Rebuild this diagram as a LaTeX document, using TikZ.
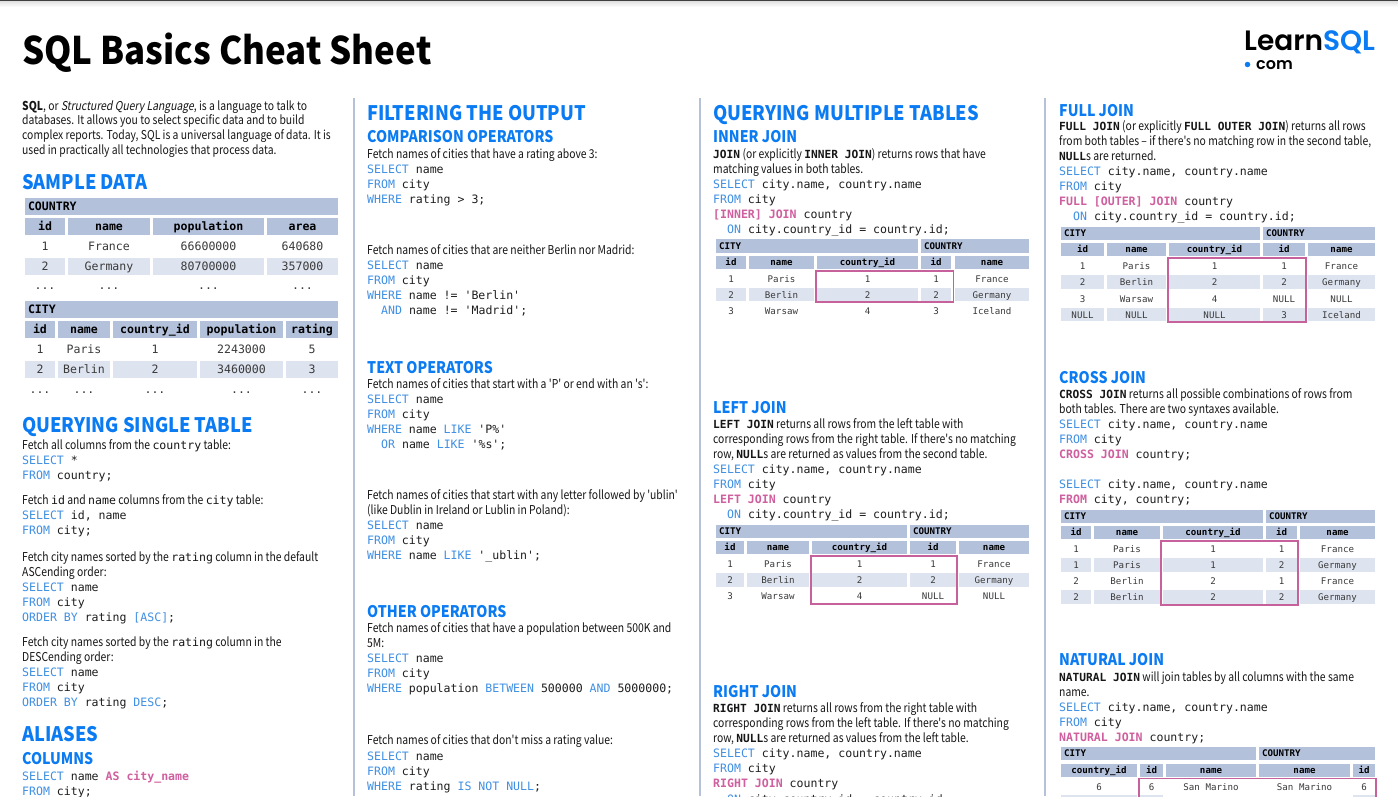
\documentclass[tikz,border=0pt]{standalone}
\usepackage{fontspec}
\newfontfamily\bodyf[FakeStretch=0.85]{Noto Sans CJK SC}
\newfontfamily\slantf[FakeSlant=0.18,FakeStretch=0.85]{Noto Sans CJK SC}
\newfontfamily\headAf[FakeStretch=0.91]{Noto Sans CJK SC}
\newfontfamily\headBf[FakeStretch=0.885]{Noto Sans CJK SC}
\newfontfamily\titlef[FakeStretch=0.917]{Noto Sans CJK SC}
\newfontfamily\monof{DejaVu Sans Mono}
\newfontfamily\logof{Poppins SemiBold}
\definecolor{blueh}{HTML}{0A7BF2}
\definecolor{kwb}{HTML}{3F8FE3}
\definecolor{kwp}{HTML}{CF5F9E}
\definecolor{pinkb}{HTML}{C7619B}
\definecolor{hdrc}{HTML}{B3C1DB}
\definecolor{rowc}{HTML}{DDE3EF}
\definecolor{sepc}{HTML}{B5C1D9}
\definecolor{bodyc}{HTML}{161616}
\definecolor{codec}{HTML}{1E1E1E}
\definecolor{datac}{HTML}{3A3A3A}
\newcounter{nn}
\newcommand\Dt{{.}{.}{.}}
\newcommand\KB[1]{{\color{kwb}#1}}
\newcommand\KP[1]{{\color{kwp}\bfseries #1}}
\newcommand\MC[1]{{\monof\fontsize{11.55}{15}\selectfont #1}}
\newcommand\MB[1]{{\monof\bfseries\fontsize{11.2}{15}\selectfont #1}}
\newcommand\Ln[3]{\stepcounter{nn}\node[txt] (n\thenn) at (#1,#2) {#3};}
\newcommand\Cd[3]{\stepcounter{nn}\node[codetxt] (n\thenn) at (#1,#2) {#3};}
\newcommand\HA[3]{\stepcounter{nn}\node[headA] (n\thenn) at (#1,#2) {#3};}
\newcommand\HB[3]{\stepcounter{nn}\node[headB] (n\thenn) at (#1,#2) {#3};}
\newcommand\Cell[6]{\stepcounter{nn}\node[cellbox,#5,minimum width={(#2-(#1))*1pt},minimum height={(#4-(#3))*1pt}] (n\thenn) at ({(#1+#2)/2},{(#3+#4)/2}) {#6};}
\newcommand\Rw[4]{\foreach \xa/\xb/\xt in {#4}{\Cell{\xa}{\xb}{#1}{#2}{#3}{\xt}}}
\newcommand\BarT[6]{\stepcounter{nn}\node[cellbox,hd,#5,minimum width={(#2-(#1))*1pt},minimum height={(#4-(#3))*1pt}] (n\thenn) at ({(#1+#2)/2},{(#3+#4)/2}) {\makebox[\dimexpr #2pt-#1pt\relax][l]{\hspace{3pt}#6}};}
\newcommand\Pk[4]{\stepcounter{nn}\node[pinkbox,minimum width={(#2-(#1))*1pt},minimum height={(#4-(#3))*1pt}] (n\thenn) at ({(#1+#2)/2},{(#3+#4)/2}) {};}
\tikzset{
 txt/.style={inner sep=0pt,anchor=base west,text=bodyc,font=\bodyf\fontsize{12.2}{15}\selectfont},
 codetxt/.style={inner sep=0pt,anchor=base west,text=codec,font=\monof\fontsize{11.55}{15}\selectfont},
 headA/.style={inner sep=0pt,anchor=base west,text=blueh,font=\headAf\bfseries\fontsize{20}{25}\selectfont},
 headB/.style={inner sep=0pt,anchor=base west,text=blueh,font=\headBf\bfseries\fontsize{16}{20}\selectfont},
 cellbox/.style={inner sep=0pt,outer sep=0pt,text=datac},
 bg/.style={text height=8.4pt,text depth=0pt,font=\monof\fontsize{11.55}{14}\selectfont},
 sm/.style={text height=7.6pt,text depth=0pt,font=\monof\fontsize{9.15}{12}\selectfont},
 smh/.style={sm,text height=6.8pt},
 hd/.style={fill=hdrc,text=black,execute at begin node=\bfseries},
 rw/.style={fill=rowc},
 pl/.style={},
 pinkbox/.style={draw=pinkb,line width=1.7pt,inner sep=0pt,outer sep=0pt},
 sepl/.style={draw=sepc,line width=1.8pt},
}
\begin{document}
\begin{tikzpicture}[x=1pt,y=-1pt]
\useasboundingbox (0,0) rectangle (1398,796);
\clip (0,0) rectangle (1398,796);
\fill[white] (0,0) rectangle (1398,796);
\fill[top color=black!12,bottom color=white] (0,1) rectangle (1398,7);
\fill[black!75] (0,0) rectangle (1398,1.2);
% separators
\coordinate (s1a) at (354.3,98); \coordinate (s1b) at (354.3,796);
\coordinate (s2a) at (700.3,98); \coordinate (s2b) at (700.3,796);
\coordinate (s3a) at (1045,98); \coordinate (s3b) at (1045,796);
\draw[sepl] (s1a) -- (s1b); \draw[sepl] (s2a) -- (s2b); \draw[sepl] (s3a) -- (s3b);
% title and logo
\node[inner sep=0pt,anchor=base west,text=black,font=\titlef\bfseries\fontsize{38}{44}\selectfont] (title) at (22,64) {SQL Basics Cheat Sheet};
\node[inner sep=0pt,anchor=base west,font=\logof\fontsize{28}{32}\selectfont] (logo) at (1244,50) {\color{black}Learn\color{blueh}SQL};
\node[inner sep=0pt,anchor=base west,font=\logof\fontsize{16}{18}\selectfont] (logob) at (1256,69.5) {com};
\node[circle,fill=blueh,inner sep=0pt,minimum size=5.5pt] (logod) at (1247.5,64.5) {};
% COLUMN 1
\Ln{22}{110}{\textbf{SQL}, or {\slantf Structured Query Language}, is a language to talk to}
\Ln{22}{124.5}{databases. It allows you to select specific data and to build}
\Ln{22}{139}{complex reports. Today, SQL is a universal language of data. It is}
\Ln{22}{154}{used in practically all technologies that process data.}
\HA{22}{189.5}{SAMPLE DATA}
\BarT{25}{338}{198}{215}{bg}{COUNTRY}
\Rw{218}{235}{bg,hd}{25/65/id,68/150/name,153/264/population,267/338/area}
\Rw{238}{255}{bg,pl}{25/65/1,68/150/France,153/264/66600000,267/338/640680}
\Rw{258}{275}{bg,rw}{25/65/2,68/150/Germany,153/264/80700000,267/338/357000}
\Rw{277}{294}{bg,pl}{25/65/\Dt,68/150/\Dt,153/264/\Dt,267/338/\Dt}
\BarT{25}{338}{301}{318}{bg}{CITY}
\Rw{321}{338}{bg,hd}{25/55/id,58/110/name,113/197/country\_id,200/283/population,286/338/rating}
\Rw{341}{358}{bg,pl}{25/55/1,58/110/Paris,113/197/1,200/283/2243000,286/338/5}
\Rw{361}{378}{bg,rw}{25/55/2,58/110/Berlin,113/197/2,200/283/3460000,286/338/3}
\Rw{380}{398}{bg,pl}{25/55/\Dt,58/110/\Dt,113/197/\Dt,200/283/\Dt,286/338/\Dt}
\HA{22}{432.5}{QUERYING SINGLE TABLE}
\Ln{22}{449}{Fetch all columns from the \MC{country} table:}
\Cd{22}{464}{\KB{SELECT} *}
\Cd{22}{479}{\KB{FROM} country;}
\Ln{22}{504}{Fetch \MC{id} and \MC{name} columns from the \MC{city} table:}
\Cd{22}{519}{\KB{SELECT} id, name}
\Cd{22}{534}{\KB{FROM} city;}
\Ln{22}{561}{Fetch city names sorted by the \MC{rating} column in the default}
\Ln{22}{576}{ASCending order:}
\Cd{22}{591}{\KB{SELECT} name}
\Cd{22}{606}{\KB{FROM} city}
\Cd{22}{621}{\KB{ORDER BY} rating \KB{[ASC]};}
\Ln{22}{646}{Fetch city names sorted by the \MC{rating} column in the}
\Ln{22}{661}{DESCending order:}
\Cd{22}{676}{\KB{SELECT} name}
\Cd{22}{691}{\KB{FROM} city}
\Cd{22}{706}{\KB{ORDER BY} rating \KB{DESC};}
\HA{22}{741.5}{ALIASES}
\HB{22}{764}{COLUMNS}
\Cd{22}{780}{\KB{SELECT} name \KP{AS city\_name}}
\Cd{22}{795}{\KB{FROM} city;}
% COLUMN 2
\HA{367}{120.5}{FILTERING THE OUTPUT}
\HB{367}{142}{COMPARISON OPERATORS}
\Ln{367}{158}{Fetch names of cities that have a rating above 3:}
\Cd{367}{173}{\KB{SELECT} name}
\Cd{367}{188}{\KB{FROM} city}
\Cd{367}{203}{\KB{WHERE} rating > 3;}
\Ln{367}{254}{Fetch names of cities that are neither Berlin nor Madrid:}
\Cd{367}{269}{\KB{SELECT} name}
\Cd{367}{284}{\KB{FROM} city}
\Cd{367}{299}{\KB{WHERE} name != 'Berlin'}
\Cd{381}{314}{\KB{AND} name != 'Madrid';}
\HB{367}{373}{TEXT OPERATORS}
\Ln{367}{388}{Fetch names of cities that start with a 'P' or end with an 's':}
\Cd{367}{403}{\KB{SELECT} name}
\Cd{367}{418}{\KB{FROM} city}
\Cd{367}{433}{\KB{WHERE} name \KB{LIKE} 'P\%'}
\Cd{381}{448}{\KB{OR} name \KB{LIKE} '\%s';}
\Ln{367}{499}{Fetch names of cities that start with any letter followed by 'ublin'}
\Ln{367}{514}{(like Dublin in Ireland or Lublin in Poland):}
\Cd{367}{529}{\KB{SELECT} name}
\Cd{367}{544}{\KB{FROM} city}
\Cd{367}{559}{\KB{WHERE} name \KB{LIKE} '\_ublin';}
\HB{367}{617}{OTHER OPERATORS}
\Ln{367}{632}{Fetch names of cities that have a population between 500K and}
\Ln{367}{647}{5M:}
\Cd{367}{662}{\KB{SELECT} name}
\Cd{367}{677}{\KB{FROM} city}
\Cd{367}{692}{\KB{WHERE} population \KB{BETWEEN} 500000 \KB{AND} 5000000;}
\Ln{367}{744}{Fetch names of cities that don't miss a rating value:}
\Cd{367}{760}{\KB{SELECT} name}
\Cd{367}{775}{\KB{FROM} city}
\Cd{367}{790}{\KB{WHERE} rating \KB{IS NOT NULL};}
% COLUMN 3
\HA{713}{120.5}{QUERYING MULTIPLE TABLES}
\HB{713}{142}{INNER JOIN}
\Ln{713}{158}{\MB{JOIN} (or explicitly \MB{INNER JOIN}) returns rows that have}
\Ln{713}{173}{matching values in both tables.}
\Cd{713}{188}{\KB{SELECT} city.name, country.name}
\Cd{713}{203}{\KB{FROM} city}
\Cd{713}{218}{\KP{[INNER] JOIN} country}
\Cd{727}{233}{\KB{ON} city.country\_id = country.id;}
\BarT{716}{918}{239}{253}{smh}{CITY}
\BarT{921}{1029}{239}{253}{smh}{COUNTRY}
\Rw{256}{269}{smh,hd}{716/746/id,749/814/name,817/918/country\_id,921/951/id,955/1029/name}
\Rw{272}{285}{sm,pl}{716/746/1,749/814/Paris,817/918/1,921/951/1,955/1029/France}
\Rw{288}{301}{sm,rw}{716/746/2,749/814/Berlin,817/918/2,921/951/2,955/1029/Germany}
\Rw{304}{317}{sm,pl}{716/746/3,749/814/Warsaw,817/918/4,921/951/3,955/1029/Iceland}
\Pk{816}{953.5}{271}{302}
\HB{713}{413}{LEFT JOIN}
\Ln{713}{428}{\MB{LEFT JOIN} returns all rows from the left table with}
\Ln{713}{443}{corresponding rows from the right table. If there's no matching}
\Ln{713}{458}{row, \MB{NULL}s are returned as values from the second table.}
\Cd{713}{473}{\KB{SELECT} city.name, country.name}
\Cd{713}{488}{\KB{FROM} city}
\Cd{713}{503}{\KP{LEFT JOIN} country}
\Cd{727}{518}{\KB{ON} city.country\_id = country.id;}
\BarT{716}{907}{525}{538}{smh}{CITY}
\BarT{910}{1029}{525}{538}{smh}{COUNTRY}
\Rw{541}{554}{smh,hd}{716/744/id,747/809/name,812/907/country\_id,910/956/id,959/1029/name}
\Rw{557}{571}{sm,pl}{716/744/1,747/809/Paris,812/907/1,910/956/1,959/1029/France}
\Rw{573}{587}{sm,rw}{716/744/2,747/809/Berlin,812/907/2,910/956/2,959/1029/Germany}
\Rw{589}{603}{sm,pl}{716/744/3,747/809/Warsaw,812/907/4,910/956/NULL,959/1029/NULL}
\Pk{811}{957}{556}{604}
\HB{713}{697}{RIGHT JOIN}
\Ln{713}{712}{\MB{RIGHT JOIN} returns all rows from the right table with}
\Ln{713}{727}{corresponding rows from the left table. If there's no matching}
\Ln{713}{742}{row, \MB{NULL}s are returned as values from the left table.}
\Cd{713}{757}{\KB{SELECT} city.name, country.name}
\Cd{713}{772}{\KB{FROM} city}
\Cd{713}{787}{\KP{RIGHT JOIN} country}
\Cd{727}{803}{\KB{ON} city.country\_id = country.id;}
% COLUMN 4
\HB{1059}{116}{FULL JOIN}
\Ln{1059}{130}{\MB{FULL JOIN} (or explicitly \MB{FULL OUTER JOIN}) returns all rows}
\Ln{1059}{145}{from both tables – if there's no matching row in the second table,}
\Ln{1059}{160}{\MB{NULL}s are returned.}
\Cd{1059}{175}{\KB{SELECT} city.name, country.name}
\Cd{1059}{190}{\KB{FROM} city}
\Cd{1059}{205}{\KP{FULL [OUTER] JOIN} country}
\Cd{1073}{220}{\KB{ON} city.country\_id = country.id;}
\BarT{1061}{1260}{227}{240}{smh}{CITY}
\BarT{1263}{1375}{227}{240}{smh}{COUNTRY}
\Rw{243}{256}{smh,hd}{1061/1104/id,1107/1166/name,1169/1260/country\_id,1263/1305/id,1308/1375/name}
\Rw{259}{273}{sm,pl}{1061/1104/1,1107/1166/Paris,1169/1260/1,1263/1305/1,1308/1375/France}
\Rw{275}{289}{sm,rw}{1061/1104/2,1107/1166/Berlin,1169/1260/2,1263/1305/2,1308/1375/Germany}
\Rw{292}{306}{sm,pl}{1061/1104/3,1107/1166/Warsaw,1169/1260/4,1263/1305/NULL,1308/1375/NULL}
\Rw{308}{321}{sm,rw}{1061/1104/NULL,1107/1166/NULL,1169/1260/NULL,1263/1305/3,1308/1375/Iceland}
\Pk{1168}{1306}{258}{322}
\HB{1059}{383}{CROSS JOIN}
\Ln{1059}{398}{\MB{CROSS JOIN} returns all possible combinations of rows from}
\Ln{1059}{413}{both tables. There are two syntaxes available.}
\Cd{1059}{428}{\KB{SELECT} city.name, country.name}
\Cd{1059}{443}{\KB{FROM} city}
\Cd{1059}{458}{\KP{CROSS JOIN} country;}
\Cd{1059}{488}{\KB{SELECT} city.name, country.name}
\Cd{1059}{503}{\KP{FROM} city, country;}
\BarT{1061}{1263}{510}{523}{smh}{CITY}
\BarT{1266}{1375}{510}{523}{smh}{COUNTRY}
\Rw{526}{539}{smh,hd}{1061/1091/id,1094/1160/name,1163/1263/country\_id,1266/1297/id,1300/1375/name}
\Rw{542}{556}{sm,pl}{1061/1091/1,1094/1160/Paris,1163/1263/1,1266/1297/1,1300/1375/France}
\Rw{558}{572}{sm,rw}{1061/1091/1,1094/1160/Paris,1163/1263/1,1266/1297/2,1300/1375/Germany}
\Rw{574}{588}{sm,pl}{1061/1091/2,1094/1160/Berlin,1163/1263/2,1266/1297/1,1300/1375/France}
\Rw{590}{604}{sm,rw}{1061/1091/2,1094/1160/Berlin,1163/1263/2,1266/1297/2,1300/1375/Germany}
\Pk{1161}{1298}{541}{605}
\HB{1059}{665}{NATURAL JOIN}
\Ln{1059}{681}{\MB{NATURAL JOIN} will join tables by all columns with the same}
\Ln{1059}{696}{name.}
\Cd{1059}{711}{\KB{SELECT} city.name, country.name}
\Cd{1059}{726}{\KB{FROM} city}
\Cd{1059}{741}{\KP{NATURAL JOIN} country;}
\BarT{1061}{1256}{747}{760}{smh}{CITY}
\BarT{1259}{1375}{747}{760}{smh}{COUNTRY}
\Rw{764}{777}{smh,hd}{1061/1137/country\_id,1140/1163/id,1166/1256/name,1259/1350/name,1353/1375/id}
\Rw{780}{794}{sm,pl}{1061/1137/6,1140/1163/6,1166/1256/San Marino,1259/1350/San Marino,1353/1375/6}
\Rw{795.3}{810}{sm,rw}{1061/1137/{},1140/1163/{},1353/1375/{}}
\Pk{1139}{1376}{778.5}{815}
\end{tikzpicture}
\end{document}
